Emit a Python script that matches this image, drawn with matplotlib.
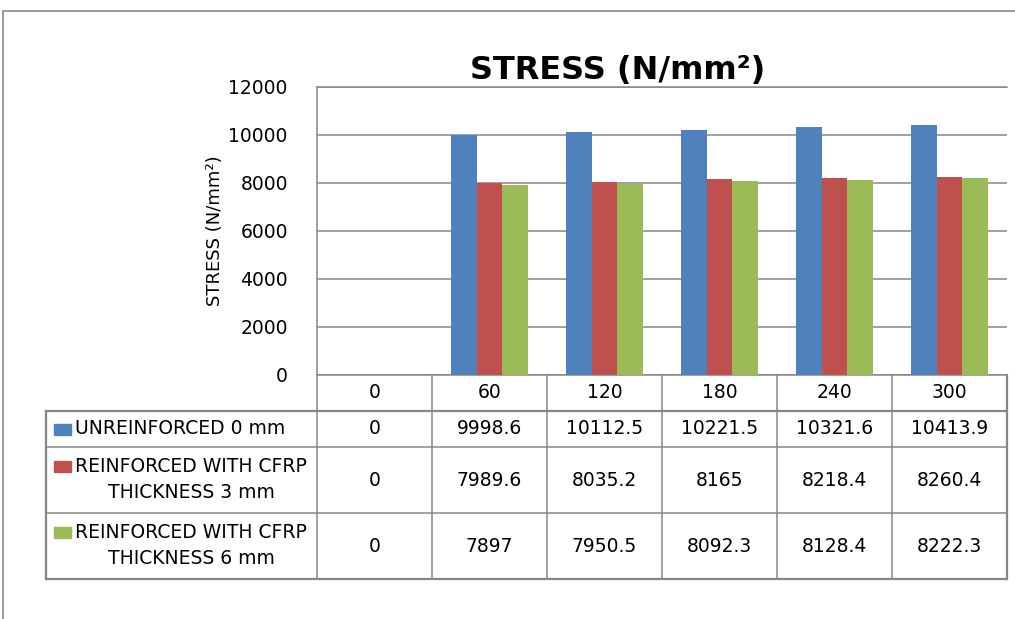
import matplotlib
matplotlib.use("Agg")
import matplotlib.pyplot as plt
from matplotlib.patches import Rectangle
import numpy as np

# data
angles = ["0", "60", "120", "180", "240", "300"]
unreinforced = [0, 9998.6, 10112.5, 10221.5, 10321.6, 10413.9]
cfrp_3mm = [0, 7989.6, 8035.2, 8165, 8218.4, 8260.4]
cfrp_6mm = [0, 7897, 7950.5, 8092.3, 8128.4, 8222.3]
series_names = [
    "UNREINFORCED 0 mm",
    "REINFORCED WITH CFRP\nTHICKNESS 3 mm",
    "REINFORCED WITH CFRP\nTHICKNESS 6 mm",
]
series_colors = ["#4F81BD", "#C0504D", "#9BBB59"]
y_ticks = [0, 2000, 4000, 6000, 8000, 10000, 12000]

series = [unreinforced, cfrp_3mm, cfrp_6mm]

# figure layout in pixels
W, H = 1015, 619
GRAY = "#878787"
FS = 13.5

fig = plt.figure(figsize=(W / 100, H / 100), dpi=100)

plot_left, plot_right = 317, 1007
plot_top, plot_bottom = 87, 375
ax = fig.add_axes([plot_left / W, 1 - plot_bottom / H,
                   (plot_right - plot_left) / W, (plot_bottom - plot_top) / H])

x = np.arange(len(angles))
bar_w = 0.222
for i, (vals, col) in enumerate(zip(series, series_colors)):
    ax.bar(x + (i - 1) * bar_w, vals, bar_w, color=col, zorder=3)

ax.set_xlim(-0.5, len(angles) - 0.5)
ax.set_ylim(0, 12000)
ax.set_yticks(y_ticks)
ax.set_xticks([])
ax.tick_params(axis="y", length=0, pad=21, labelsize=FS)
ax.grid(True, axis="y", color=GRAY, linewidth=1.1, zorder=0)
for s in ["left", "bottom", "top"]:
    ax.spines[s].set_color(GRAY)
    ax.spines[s].set_linewidth(1.1)
ax.spines["right"].set_visible(False)

# title and y label
fig.text(618 / W, 1 - 71 / H, "STRESS (N/mm²)", fontsize=23, fontweight="bold",
         ha="center", va="center")
fig.text(215 / W, 1 - 231 / H, "STRESS (N/mm²)", fontsize=13, rotation=90,
         ha="center", va="center")

# overlay in pixel coordinates for the data table and frame
ov = fig.add_axes([0, 0, 1, 1])
ov.set_xlim(0, W)
ov.set_ylim(H, 0)
ov.axis("off")

# outer chart frame (top and left edges only visible)
ov.plot([3, 3, W], [H, 11, 11], color=GRAY, linewidth=1.2)

tab_left = 46
col_edges = [plot_left + (plot_right - plot_left) / len(angles) * i for i in range(len(angles) + 1)]
row_edges = [375, 411, 447, 513, 579]

# horizontal lines
for j, yy in enumerate(row_edges[1:]):
    lw = 1.6 if j in (0, 3) else 1.1
    ov.plot([tab_left, plot_right], [yy, yy], color=GRAY, linewidth=lw)
# vertical lines
for k, xx in enumerate(col_edges):
    lw = 1.6 if k == len(col_edges) - 1 else 1.1
    ov.plot([xx, xx], [row_edges[0], row_edges[-1]], color=GRAY, linewidth=lw)
ov.plot([tab_left, tab_left], [row_edges[1], row_edges[-1]], color=GRAY, linewidth=1.6)

col_centers = [(col_edges[k] + col_edges[k + 1]) / 2 for k in range(len(angles))]
row_centers = [(row_edges[r] + row_edges[r + 1]) / 2 for r in range(len(row_edges) - 1)]

# header row
for k, lab in enumerate(angles):
    ov.text(col_centers[k], row_centers[0], lab, fontsize=FS, ha="center", va="center")

# series rows
for r, (name, vals, col) in enumerate(zip(series_names, series, series_colors)):
    yc = row_centers[r + 1]
    lines = name.split("\n")
    if len(lines) == 1:
        ov.add_patch(Rectangle((54, yc - 5.5), 17, 11, color=col))
        ov.text(75, yc, name, fontsize=FS, ha="left", va="center")
    else:
        pitch = 26
        y1 = yc - pitch / 2 - 1
        ov.add_patch(Rectangle((54, y1 - 5.5), 17, 11, color=col))
        ov.text(191, y1, lines[0], fontsize=FS, ha="center", va="center")
        ov.text(191, y1 + pitch, lines[1], fontsize=FS, ha="center", va="center")
    for k, v in enumerate(vals):
        ov.text(col_centers[k], yc, f"{v:g}", fontsize=FS, ha="center", va="center")

fig.savefig("out.png", dpi=100)
